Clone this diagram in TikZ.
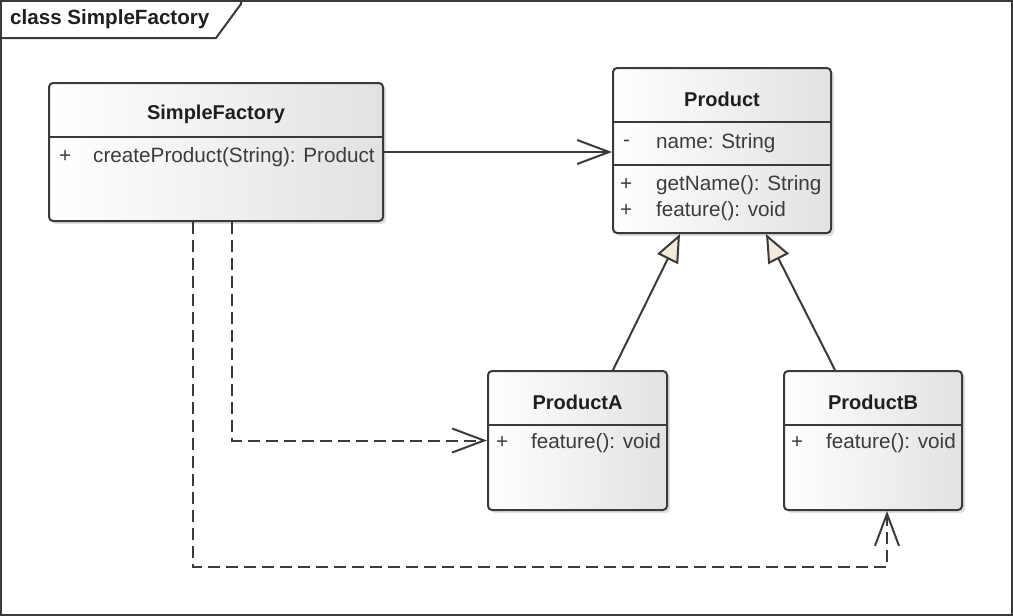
\documentclass[tikz,border=0pt]{standalone}
\usepackage{fontspec}
\setmainfont{Liberation Sans}
\usetikzlibrary{arrows.meta,shadows,calc}
\definecolor{edge}{HTML}{3A3A3A}
\definecolor{txt}{HTML}{3C3C3C}
\definecolor{cream}{HTML}{F2EADB}
\definecolor{boxr}{HTML}{E2E2E2}
\begin{document}
\begin{tikzpicture}[x=1pt,y=-1pt,
  cls/.style={draw=edge, line width=2pt, rounded corners=4pt, left color=white, right color=boxr,
    drop shadow={shadow xshift=3pt, shadow yshift=-3pt, opacity=0.25}, inner sep=0pt},
  ttl/.style={font=\fontsize{20}{24}\selectfont\bfseries, text=black!88, inner sep=0pt},
  mem/.style={font=\fontsize{20.7}{24}\selectfont, text=txt, anchor=west, inner sep=0pt},
  ln/.style={draw=edge, line width=2pt},
  assoc/.style={ln, -{Straight Barb[length=32pt,width=24pt]}},
  dep/.style={assoc, dash pattern=on 12pt off 6pt},
  gen/.style={ln, -{Triangle[length=28pt,width=23pt,fill=cream]}}
]
\useasboundingbox (0,0) rectangle (1013,616);
% frame
\draw[ln] (1,1) rectangle (1012,615);
\draw[ln] (1,38) -- (216,38) -- (241,4) -- (241,1);
\node[ttl, anchor=west, font=\fontsize{20.6}{24}\selectfont\bfseries] (frame) at (10,19) {class SimpleFactory};

% SimpleFactory
\node[cls, minimum width=334pt, minimum height=138pt] (sf) at (216,152) {};
\draw[ln] (sf.west |- 0,137) -- (sf.east |- 0,137);
\node[ttl] (sft) at (216,114) {SimpleFactory};
\node[mem] (sfp) at (59,157) {+};
\node[mem] (sfm) at (93,157) {createProduct(String): Product};

% Product
\node[cls, minimum width=218pt, minimum height=165pt] (prod) at (722,150.5) {};
\draw[ln] (prod.west |- 0,122) -- (prod.east |- 0,122);
\draw[ln] (prod.west |- 0,165) -- (prod.east |- 0,165);
\node[ttl] (prodt) at (722,99) {Product};
\node[mem] (pa1) at (623,143) {-};
\node[mem] (pa2) at (656,143) {name: String};
\node[mem] (pm1) at (620,185) {+};
\node[mem] (pm2) at (656,185) {getName(): String};
\node[mem] (pm3) at (620,211) {+};
\node[mem] (pm4) at (656,211) {feature(): void};

% ProductA
\node[cls, minimum width=179pt, minimum height=139pt] (pa) at (577.5,440.5) {};
\draw[ln] (pa.west |- 0,425) -- (pa.east |- 0,425);
\node[ttl] (pat) at (577.5,402) {ProductA};
\node[mem] (pap) at (496,443) {+};
\node[mem] (pam) at (531,443) {feature(): void};

% ProductB
\node[cls, minimum width=178pt, minimum height=139pt] (pb) at (873,440.5) {};
\draw[ln] (pb.west |- 0,425) -- (pb.east |- 0,425);
\node[ttl] (pbt) at (873,402) {ProductB};
\node[mem] (pbp) at (791,443) {+};
\node[mem] (pbm) at (826,443) {feature(): void};

% connectors
\draw[assoc] (sf.east) -- (sf.east -| prod.west);
\draw[gen] ($(pa.north)+(35.5,0)$) -- ($(prod.south)+(-42,0)$);
\draw[gen] ($(pb.north)+(-38,0)$) -- ($(prod.south)+(44,0)$);
\draw[dep] ($(sf.south)+(16,0)$) |- (pa.west);
\draw[dep] ($(sf.south)+(-23,0)$) -- ++(0,345) -| ($(pb.south)+(14,0)$);
\end{tikzpicture}
\end{document}
